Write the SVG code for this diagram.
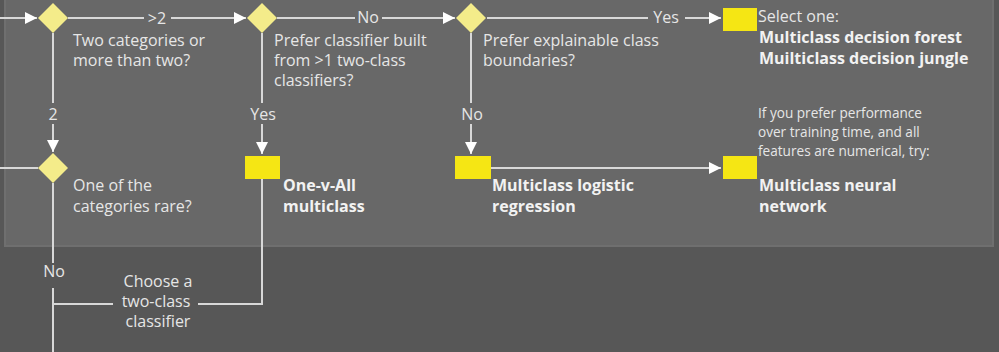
<svg xmlns="http://www.w3.org/2000/svg" width="999" height="352" viewBox="0 0 999 352">
<defs>
<style>
.bg{fill:#575757}
.panel{fill:#686868;stroke:#6f6f6f;stroke-width:2}
.ln{fill:none;stroke:#d8d8d8;stroke-width:2}
.dia{fill:#f4ec8a}
.box{fill:#f5e614}
.t{font-family:"Open Sans","Noto Sans","DejaVu Sans",sans-serif;font-size:16px;fill:#e6e6e6}
.tc{text-anchor:middle}
.b{font-family:"Open Sans","Noto Sans","DejaVu Sans",sans-serif;font-size:16px;font-weight:bold;fill:#f2f2f2}
.s{font-family:"Open Sans","Noto Sans","DejaVu Sans",sans-serif;font-size:13.6px;fill:#e6e6e6}
</style>
<marker id="ah" markerUnits="userSpaceOnUse" markerWidth="14" markerHeight="14" viewBox="0 0 14 14" refX="13" refY="7" orient="auto">
<path d="M1,1 L13,7 L1,13 Z" fill="#ffffff"/>
</marker>
</defs>
<rect class="bg" x="0" y="0" width="999" height="352"/>
<rect class="panel" x="5" y="-2" width="988" height="248"/>

<g id="connectors">
<path class="ln" d="M0,18 H37" marker-end="url(#ah)"/>
<path class="ln" d="M68,18 H144"/>
<path class="ln" d="M171,18 H246" marker-end="url(#ah)"/>
<text class="t tc" x="157" y="24">&gt;2</text>
<path class="ln" d="M277,18 H355"/>
<path class="ln" d="M382,18 H455" marker-end="url(#ah)"/>
<text class="t tc" x="368" y="23">No</text>
<path class="ln" d="M487,18 H648"/>
<path class="ln" d="M685,18 H721" marker-end="url(#ah)"/>
<text class="t tc" x="666" y="23">Yes</text>
<path class="ln" d="M53,33 V103"/>
<text class="t tc" x="53" y="120">2</text>
<path class="ln" d="M53,124 V152" marker-end="url(#ah)"/>
<path class="ln" d="M0,168 H38"/>
<path class="ln" d="M53,183 V263"/>
<text class="t tc" x="54" y="277">No</text>
<path class="ln" d="M53,288 V352"/>
<path class="ln" d="M262,33 V103"/>
<text class="t tc" x="263" y="120">Yes</text>
<path class="ln" d="M262,124 V154" marker-end="url(#ah)"/>
<path class="ln" d="M262,179 V304 H198"/>
<path class="ln" d="M113,304 H53"/>
<path class="ln" d="M471,33 V103"/>
<text class="t tc" x="472" y="120">No</text>
<path class="ln" d="M471,124 V154" marker-end="url(#ah)"/>
<path class="ln" d="M491,168 H721" marker-end="url(#ah)"/>
</g>

<g id="d1">
<polygon class="dia" points="53,3 68,18 53,33 38,18"/>
<text class="t" x="73" y="46">Two categories or</text>
<text class="t" x="73" y="66">more than two?</text>
</g>
<g id="d2">
<polygon class="dia" points="262,3 277,18 262,33 247,18"/>
<text class="t" x="274" y="46">Prefer classifier built</text>
<text class="t" x="274" y="66">from &gt;1 two-class</text>
<text class="t" x="274" y="86">classifiers?</text>
</g>
<g id="d3">
<polygon class="dia" points="471,3 486,18 471,33 456,18"/>
<text class="t" x="483" y="46">Prefer explainable class</text>
<text class="t" x="483" y="66">boundaries?</text>
</g>
<g id="d4">
<polygon class="dia" points="53,153 68,168 53,183 38,168"/>
<text class="t" x="73" y="191">One of the</text>
<text class="t" x="73" y="212">categories rare?</text>
</g>
<g id="forest">
<rect class="box" x="723" y="8" width="34" height="23"/>
<text class="t" x="758" y="22">Select one:</text>
<text class="b" x="759" y="43">Multiclass decision forest</text>
<text class="b" x="759" y="64">Muilticlass decision jungle</text>
</g>
<g id="ova">
<rect class="box" x="245" y="156" width="35" height="23"/>
<text class="b" x="283" y="191">One-v-All</text>
<text class="b" x="283" y="212">multiclass</text>
</g>
<g id="mlr">
<rect class="box" x="455" y="156" width="36" height="23"/>
<text class="b" x="492" y="191">Multiclass logistic</text>
<text class="b" x="492" y="212">regression</text>
</g>
<g id="nn">
<text class="s" x="758" y="118">If you prefer performance</text>
<text class="s" x="758" y="137">over training time, and all</text>
<text class="s" x="758" y="156">features are numerical, try:</text>
<rect class="box" x="723" y="156" width="34" height="23"/>
<text class="b" x="759" y="191">Multiclass neural</text>
<text class="b" x="759" y="212">network</text>
</g>
<g id="two-class">
<text class="t tc" x="158" y="287">Choose a</text>
<text class="t tc" x="156" y="307">two-class</text>
<text class="t tc" x="158" y="327">classifier</text>
</g>
</svg>
